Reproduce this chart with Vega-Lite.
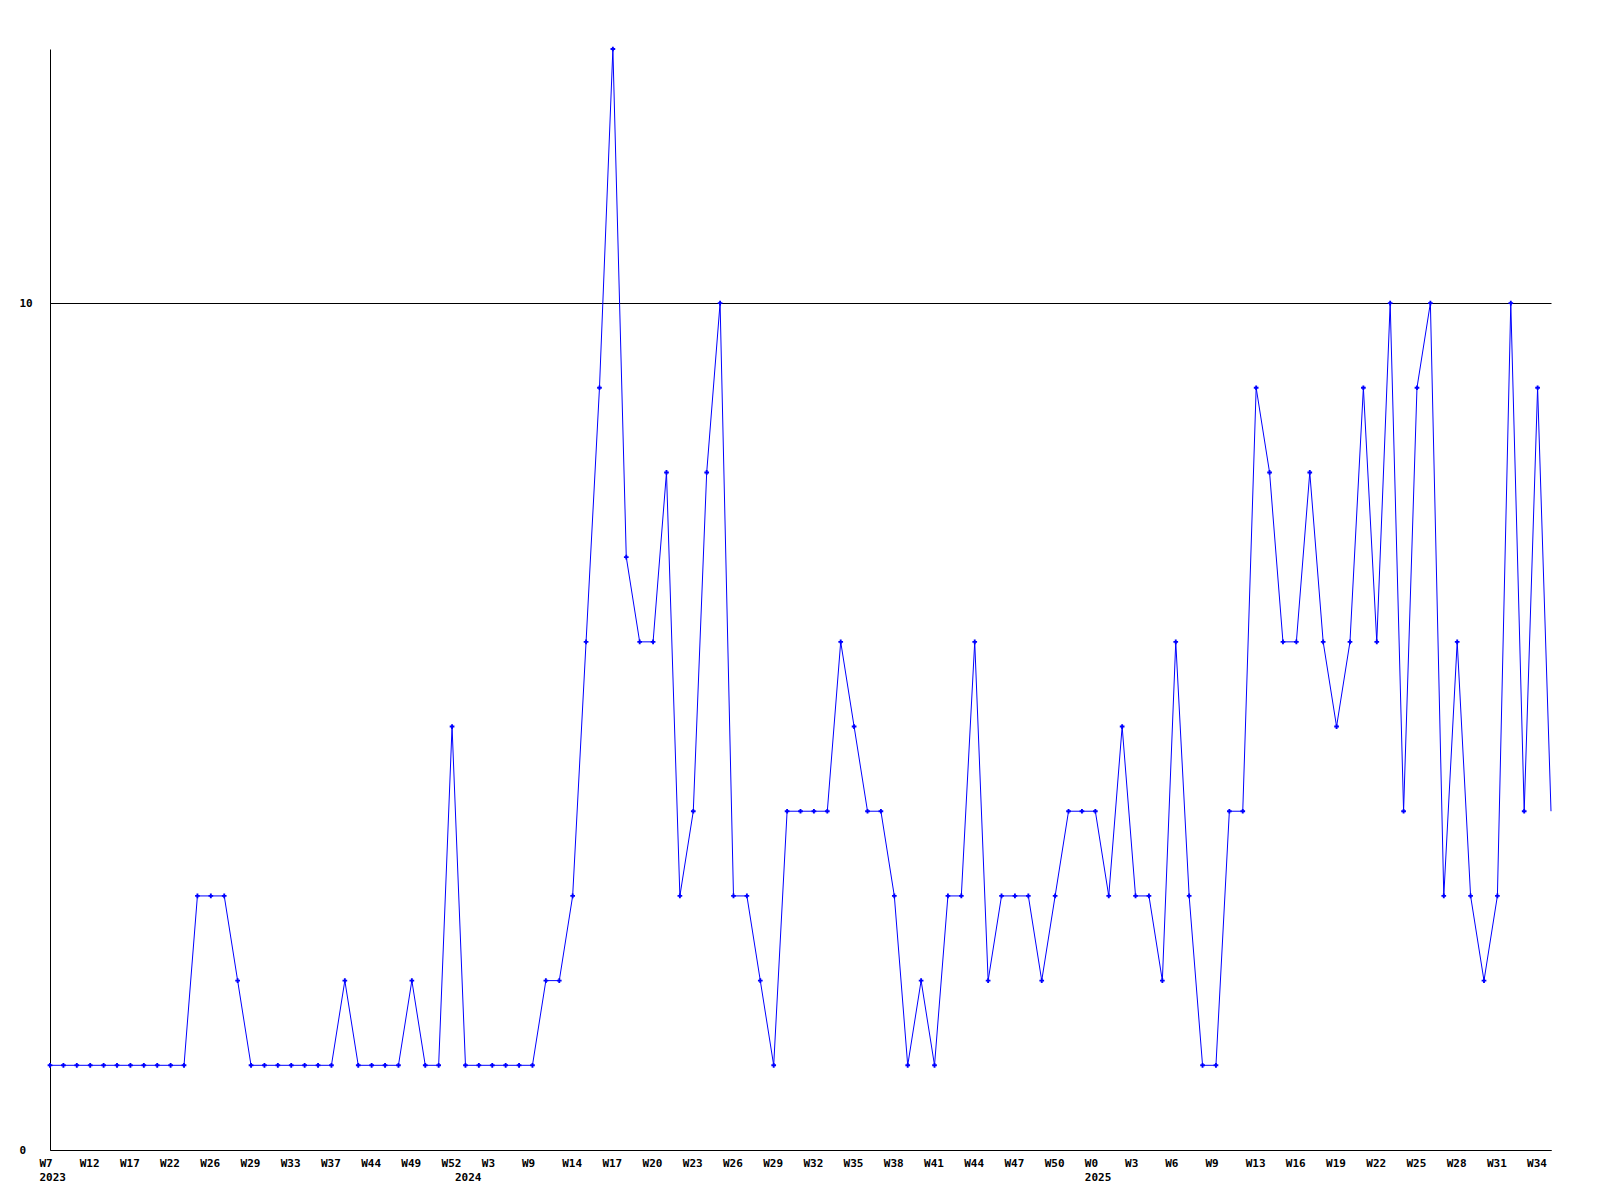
{
  "$schema": "https://vega.github.io/schema/vega-lite/v6.json",
  "autosize": {"type": "none"},
  "padding": {"left": 50, "top": 49, "right": 49, "bottom": 50},
  "width": 1501,
  "height": 1101,
  "background": "white",
  "config": {
    "view": {"stroke": null},
    "axis": {"labelFont": "DejaVu Sans Mono", "labelFontWeight": "bold", "labelFontSize": 11, "labelColor": "black", "domainColor": "black", "domainWidth": 1, "ticks": false, "title": null}
  },
  "data": {"values": [
    {"i":0,"n":1},{"i":1,"n":1},{"i":2,"n":1},{"i":3,"n":1},{"i":4,"n":1},{"i":5,"n":1},{"i":6,"n":1},{"i":7,"n":1},{"i":8,"n":1},{"i":9,"n":1},
    {"i":10,"n":1},{"i":11,"n":3},{"i":12,"n":3},{"i":13,"n":3},{"i":14,"n":2},{"i":15,"n":1},{"i":16,"n":1},{"i":17,"n":1},{"i":18,"n":1},{"i":19,"n":1},
    {"i":20,"n":1},{"i":21,"n":1},{"i":22,"n":2},{"i":23,"n":1},{"i":24,"n":1},{"i":25,"n":1},{"i":26,"n":1},{"i":27,"n":2},{"i":28,"n":1},{"i":29,"n":1},
    {"i":30,"n":5},{"i":31,"n":1},{"i":32,"n":1},{"i":33,"n":1},{"i":34,"n":1},{"i":35,"n":1},{"i":36,"n":1},{"i":37,"n":2},{"i":38,"n":2},{"i":39,"n":3},
    {"i":40,"n":6},{"i":41,"n":9},{"i":42,"n":13},{"i":43,"n":7},{"i":44,"n":6},{"i":45,"n":6},{"i":46,"n":8},{"i":47,"n":3},{"i":48,"n":4},{"i":49,"n":8},
    {"i":50,"n":10},{"i":51,"n":3},{"i":52,"n":3},{"i":53,"n":2},{"i":54,"n":1},{"i":55,"n":4},{"i":56,"n":4},{"i":57,"n":4},{"i":58,"n":4},{"i":59,"n":6},
    {"i":60,"n":5},{"i":61,"n":4},{"i":62,"n":4},{"i":63,"n":3},{"i":64,"n":1},{"i":65,"n":2},{"i":66,"n":1},{"i":67,"n":3},{"i":68,"n":3},{"i":69,"n":6},
    {"i":70,"n":2},{"i":71,"n":3},{"i":72,"n":3},{"i":73,"n":3},{"i":74,"n":2},{"i":75,"n":3},{"i":76,"n":4},{"i":77,"n":4},{"i":78,"n":4},{"i":79,"n":3},
    {"i":80,"n":5},{"i":81,"n":3},{"i":82,"n":3},{"i":83,"n":2},{"i":84,"n":6},{"i":85,"n":3},{"i":86,"n":1},{"i":87,"n":1},{"i":88,"n":4},{"i":89,"n":4},
    {"i":90,"n":9},{"i":91,"n":8},{"i":92,"n":6},{"i":93,"n":6},{"i":94,"n":8},{"i":95,"n":6},{"i":96,"n":5},{"i":97,"n":6},{"i":98,"n":9},{"i":99,"n":6},
    {"i":100,"n":10},{"i":101,"n":4},{"i":102,"n":9},{"i":103,"n":10},{"i":104,"n":3},{"i":105,"n":6},{"i":106,"n":3},{"i":107,"n":2},{"i":108,"n":3},{"i":109,"n":10},
    {"i":110,"n":4},{"i":111,"n":9},{"i":112,"n":4}
  ]},
  "encoding": {
    "x": {
      "field": "i", "type": "quantitative",
      "scale": {"domain": [0, 112], "nice": false, "zero": false},
      "axis": {
        "grid": false,
        "values": [0, 3, 6, 9, 12, 15, 18, 21, 24, 27, 30, 31, 33, 36, 39, 42, 45, 48, 51, 54, 57, 60, 63, 66, 69, 72, 75, 78, 81, 84, 87, 90, 93, 96, 99, 102, 105, 108, 111],
        "labelExpr": "datum.value == 31 ? ['', '2024'] : [['W7','2023'],'W12','W17','W22','W26','W29','W33','W37','W44','W49','W52','W3','W9','W14','W17','W20','W23','W26','W29','W32','W35','W38','W41','W44','W47','W50',['W0','2025'],'W3','W6','W9','W13','W16','W19','W22','W25','W28','W31','W34'][datum.value / 3]",
        "labelAlign": "left",
        "labelBaseline": "top",
        "labelOffset": -11,
        "labelPadding": 7,
        "labelLineHeight": 14,
        "labelOverlap": false,
        "labelFlush": false,
        "labelBound": false
      }
    },
    "y": {
      "field": "n", "type": "quantitative",
      "scale": {"domain": [0, 13], "nice": false},
      "axis": {
        "values": [0, 10],
        "grid": true,
        "gridColor": "black",
        "gridOpacity": 1,
        "gridWidth": 1,
        "labelAlign": "left",
        "labelBaseline": "middle",
        "labelPadding": 31,
        "labelOverlap": false,
        "labelFlush": false,
        "labelBound": false
      }
    }
  },
  "layer": [
    {"mark": {"type": "line", "color": "#0000ff", "strokeWidth": 1, "interpolate": "linear"}},
    {
      "transform": [{"filter": "datum.i < 112"}],
      "mark": {"type": "point", "shape": "cross", "filled": true, "size": 22, "color": "#0000ff", "opacity": 1}
    }
  ]
}
